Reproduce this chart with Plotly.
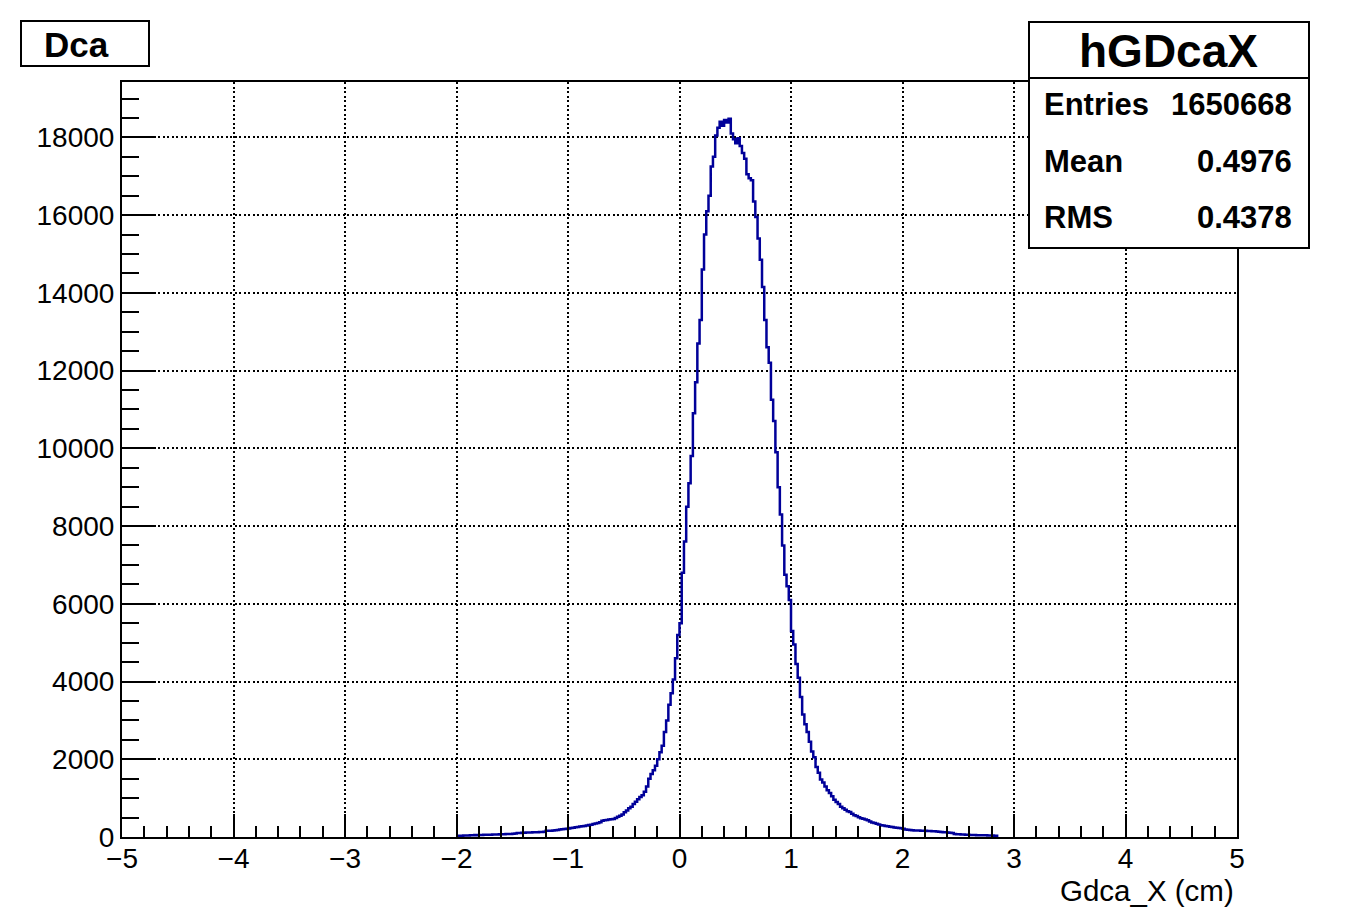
import numpy as np
import plotly.graph_objects as go

# ---------------- data ----------------
BIN_START = -2.0
BIN_WIDTH = 0.02
COUNTS = [
    # -1.99 .. -1.49
    22, 34, 30, 38, 36, 41, 44, 43, 49, 47,
    52, 50, 57, 55, 60, 58, 63, 66, 64, 69,
    71, 70, 76, 74, 79, 82,
    # -1.47 .. -1.21
    88, 102, 104, 110, 108, 114, 116, 115, 121, 124, 123, 129, 131, 136,
    # -1.19 .. -1.09
    158, 163, 161, 169, 171, 179,
    # -1.07 .. -0.99
    194, 201, 203, 213, 221,
    # -0.97 .. -0.81
    229, 240, 254, 260, 270, 276, 286, 297, 306,
    # -0.79 .. -0.71
    318, 335, 345, 360, 380,
    # -0.69 .. -0.51
    420, 428, 440, 450, 458, 465, 490, 523, 545, 580,
    # -0.49 .. -0.31
    635, 680, 738, 780, 850, 910, 970, 1030, 1073, 1167,
    # -0.29 .. -0.01
    1300, 1500, 1620, 1720, 1830, 2000, 2180, 2350, 2700, 3000,
    3400, 3700, 4050, 4600, 5200,
    # 0.01 .. 0.31
    5500, 6800, 7600, 8500, 9100, 9800, 10900, 11700, 12700, 13300,
    14600, 15500, 16100, 16500, 17250, 17500,
    # 0.33 .. 0.59
    18050, 18250, 18400, 18300, 18450, 18380, 18480, 18100, 17950, 17850,
    17980, 17780, 17600, 17450,
    # 0.61 .. 0.99
    17050, 16950, 16900, 16350, 15950, 15400, 14850, 14150, 13300, 12600,
    12200, 11250, 10700, 9900, 9000, 8300, 7500, 6750, 6450, 6100,
    # 1.01 .. 1.33
    5300, 4950, 4450, 4100, 3600, 3150, 2900, 2700, 2450, 2200,
    2050, 1800, 1650, 1480, 1400, 1300, 1200,
    # 1.35 .. 1.99
    1130, 1050, 960, 900, 850, 780, 740, 700, 660, 640,
    600, 560, 540, 510, 485, 470, 450, 430, 400, 375,
    360, 340, 320, 305, 295, 285, 275, 265, 255, 245,
    240, 232, 225,
    # 2.01 .. 2.85
    210, 195, 185, 180, 175, 170, 168, 165, 162, 160,
    158, 156, 152, 148, 145, 140, 135, 130, 125, 120,
    115, 110, 100, 80, 70, 68, 65, 62, 58, 55,
    54, 52, 50, 48, 47, 45, 44, 42, 40, 38,
    36, 35, 33,
]

X_RANGE = [-5, 5]
Y_RANGE = [0, 19425]
PAD_TITLE = "Dca"
HIST_NAME = "hGDcaX"
STATS_LABELS = ["Entries", "Mean", "RMS"]
STATS_VALUES = ["1650668", "0.4976", "0.4378"]
X_TITLE = "Gdca_X (cm)"

# ---------------- figure geometry (page pixels) ----------------
PAGE_W, PAGE_H = 1354, 922
BODY = 8                       # default body margin of the html page
W, H = PAGE_W - 2 * BODY, PAGE_H - 2 * BODY
PLOT_L, PLOT_R, PLOT_T, PLOT_B = 122, 1237, 82, 837   # page px of the frame
ML = PLOT_L - BODY
MT = PLOT_T - BODY
MR = (BODY + W) - PLOT_R
MB = (BODY + H) - PLOT_B
PW, PH = PLOT_R - PLOT_L, PLOT_B - PLOT_T


def px2x(px):
    return (px - PLOT_L) / PW


def py2y(py):
    return (PLOT_B - py) / PH


edges = BIN_START + BIN_WIDTH * np.arange(len(COUNTS) + 1)
yvals = list(COUNTS) + [COUNTS[-1]]

FONT = "Liberation Sans, Arial, Helvetica, sans-serif"

fig = go.Figure()
fig.add_trace(go.Scatter(
    x=edges, y=yvals, mode="lines", line_shape="hv",
    line=dict(color="#000099", width=2.5), hoverinfo="skip",
))

axis_common = dict(
    ticks="inside", tickcolor="black", tickwidth=2,
    showline=True, linecolor="black", linewidth=2, mirror=True,
    showgrid=True, gridcolor="black", gridwidth=1.5, griddash="2px,2.5px",
    zeroline=False, tickformat="d",
    tickfont=dict(family=FONT, size=28, color="black"),
)

fig.update_xaxes(
    range=X_RANGE, tickmode="linear", tick0=-5, dtick=1, ticklen=23,
    ticklabelstandoff=-5,
    minor=dict(dtick=0.2, tick0=-5, ticks="inside", ticklen=11, tickwidth=2,
               tickcolor="black", showgrid=False),
    **axis_common,
)
fig.update_yaxes(
    range=Y_RANGE, tickmode="linear", tick0=0, dtick=2000, ticklen=33,
    minor=dict(dtick=500, tick0=0, ticks="inside", ticklen=17, tickwidth=2,
               tickcolor="black", showgrid=False),
    **axis_common,
)

shapes = [
    dict(type="rect", xref="paper", yref="paper",
         x0=px2x(21), x1=px2x(149), y0=py2y(66), y1=py2y(21),
         line=dict(color="black", width=2), fillcolor="white", layer="above"),
    dict(type="rect", xref="paper", yref="paper",
         x0=px2x(1029), x1=px2x(1309), y0=py2y(248), y1=py2y(22),
         line=dict(color="black", width=2), fillcolor="white", layer="above"),
    dict(type="line", xref="paper", yref="paper",
         x0=px2x(1029), x1=px2x(1309), y0=py2y(78), y1=py2y(78),
         line=dict(color="black", width=2), layer="above"),
]

annotations = [
    dict(text=PAD_TITLE, x=px2x(42), y=py2y(44), xanchor="left", yanchor="middle",
         font=dict(family=FONT, size=35, color="black", weight="bold")),
    dict(text=HIST_NAME, x=px2x(1168), y=py2y(51), xanchor="center", yanchor="middle",
         font=dict(family=FONT, size=46, color="black", weight="bold")),
    dict(text=X_TITLE, x=px2x(1236), y=py2y(890), xanchor="right", yanchor="middle",
         font=dict(family=FONT, size=29.5, color="black")),
]
row_y = [105, 161, 217]
for lab, val, yy in zip(STATS_LABELS, STATS_VALUES, row_y):
    annotations.append(dict(text=lab, x=px2x(1042), y=py2y(yy), xanchor="left",
                            yanchor="middle",
                            font=dict(family=FONT, size=31, color="black", weight="bold")))
    annotations.append(dict(text=val, x=px2x(1294), y=py2y(yy), xanchor="right",
                            yanchor="middle",
                            font=dict(family=FONT, size=31, color="black", weight="bold")))
for a in annotations:
    a.update(xref="paper", yref="paper", showarrow=False)

fig.update_layout(
    width=W, height=H, autosize=False,
    margin=dict(l=ML, r=MR, t=MT, b=MB, pad=0),
    plot_bgcolor="white", paper_bgcolor="white",
    showlegend=False, shapes=shapes, annotations=annotations,
)

fig.write_html("out.html")
